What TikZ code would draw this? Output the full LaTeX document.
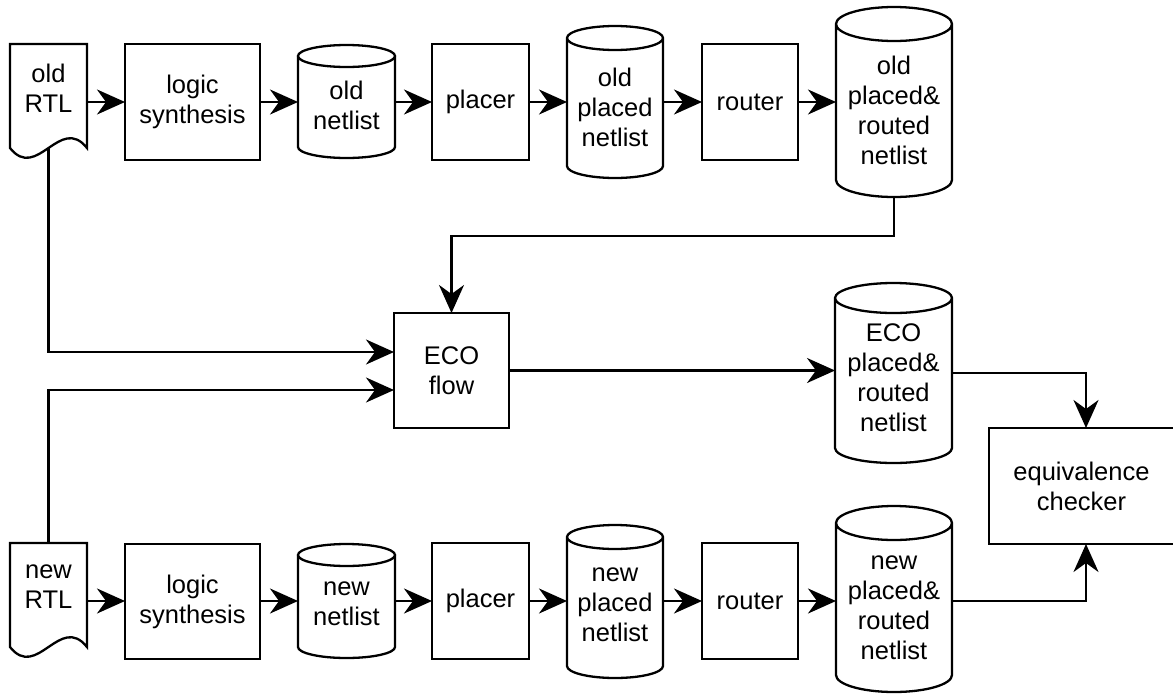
\documentclass[tikz,border=0pt]{standalone}
\usepackage{fontspec}
\setmainfont{Liberation Sans}
\usetikzlibrary{arrows.meta,calc}

% Outline of a vertical cylinder filling the footprint of node #1,
% with end ellipses of vertical radius #2 (in pt).
\newcommand\cylinderoutline[2]{%
  \draw[ln] let \p1=(#1.north west), \p2=(#1.south east), \n1={(\x2-\x1)/2} in
    (\x1,\y1-#2pt) -- (\x1,\y2+#2pt)
    arc[start angle=180, end angle=360, x radius=\n1, y radius=#2pt]
    -- (\x2,\y1-#2pt)
    (\x1+\n1,\y1-#2pt) ellipse[x radius=\n1, y radius=#2pt];}

% Outline of a document symbol (wavy bottom edge) filling node #1.
\newcommand\documentoutline[1]{%
  \draw[ln] (#1.north west) -- (#1.north east) -- (#1.south east)
    .. controls ($(#1.south east)+(-27,34)$) and ($(#1.south east)+(-50,-34)$) .. (#1.south west)
    -- cycle;}

\tikzset{
  bigtip/.tip={Stealth[length=28pt 0 0, width=25pt 0 0, inset=9pt 0 0]}
}

\begin{document}
\begin{tikzpicture}[x=1pt,y=1pt,
  ln/.style={line width=2.3pt},
  every node/.style={inner sep=0pt, outer sep=0pt},
  txt/.style={align=center, font=\fontsize{25.5}{30}\selectfont},
  box/.style={txt, draw, ln},
  flow/.style={ln, -bigtip}]

\path[use as bounding box, clip] (0,0) rectangle (1173,-694);

% rows of the two flows
\coordinate (r1) at (0,-102);
\coordinate (r2) at (0,-601);
\coordinate (bend) at (0,-236);

% ---- old flow ----
\node[minimum width=77pt, minimum height=104pt] (ortl) at (48.5,-96) {};
\documentoutline{ortl}
\node[txt] (ortl-t) at ($(ortl)+(0,8)$) {old\\RTL};

\node[box, minimum width=135pt, minimum height=116pt] (ols) at (192.5,-102) {logic\\synthesis};

\node[minimum width=97pt, minimum height=113pt] (onl) at (346.5,-101.5) {};
\cylinderoutline{onl}{11}
\node[txt] (onl-t) at ($(onl)+(0,-3.5)$) {old\\netlist};

\node[box, minimum width=97pt, minimum height=116pt] (opl) at (480.5,-102) {placer};

\node[minimum width=96pt, minimum height=152pt] (opn) at (615,-102) {};
\cylinderoutline{opn}{12}
\node[txt] (opn-t) at ($(opn)+(0,-5)$) {old\\placed\\netlist};

\node[box, minimum width=96pt, minimum height=116pt] (ort) at (750,-102) {router};

\node[minimum width=116pt, minimum height=190pt] (oprn) at (894,-102) {};
\cylinderoutline{oprn}{17}
\node[txt] (oprn-t) at ($(oprn)+(0,-8)$) {old\\placed\&\\routed\\netlist};

% ---- ECO step ----
\node[box, minimum width=115pt, minimum height=115pt] (eco) at (451.5,-370.5) {ECO\\flow};

\node[minimum width=117pt, minimum height=180pt] (ecoprn) at (893.5,-373) {};
\cylinderoutline{ecoprn}{15}
\node[txt] (ecoprn-t) at ($(ecoprn)+(0,-4.5)$) {ECO\\placed\&\\routed\\netlist};

\node[box, minimum width=185pt, minimum height=116pt] (eqc) at (1081.5,-486) {equivalence\\checker};

% ---- new flow ----
\node[minimum width=77pt, minimum height=104pt] (nrtl) at (48.5,-595) {};
\documentoutline{nrtl}
\node[txt] (nrtl-t) at ($(nrtl)+(0,8)$) {new\\RTL};

\node[box, minimum width=135pt, minimum height=115pt] (nls) at (192.5,-601.5) {logic\\synthesis};

\node[minimum width=97pt, minimum height=114pt] (nnl) at (346.5,-601) {};
\cylinderoutline{nnl}{11}
\node[txt] (nnl-t) at ($(nnl)+(0,-3)$) {new\\netlist};

\node[box, minimum width=97pt, minimum height=116pt] (npl) at (480.5,-601) {placer};

\node[minimum width=96pt, minimum height=153pt] (npn) at (615,-601.5) {};
\cylinderoutline{npn}{12}
\node[txt] (npn-t) at ($(npn)+(0,-3.5)$) {new\\placed\\netlist};

\node[box, minimum width=96pt, minimum height=116pt] (nrt) at (750,-601) {router};

\node[minimum width=116pt, minimum height=186pt] (nprn) at (894,-599) {};
\cylinderoutline{nprn}{17}
\node[txt] (nprn-t) at ($(nprn)+(0,-9)$) {new\\placed\&\\routed\\netlist};

% ---- connectors ----
\draw[flow] (ortl.east |- r1) -- (ols.west |- r1);
\draw[flow] (ols.east |- r1) -- (onl.west |- r1);
\draw[flow] (onl.east |- r1) -- (opl.west |- r1);
\draw[flow] (opl.east |- r1) -- (opn.west |- r1);
\draw[flow] (opn.east |- r1) -- (ort.west |- r1);
\draw[flow] (ort.east |- r1) -- (oprn.west |- r1);

\draw[flow] (nrtl.east |- r2) -- (nls.west |- r2);
\draw[flow] (nls.east |- r2) -- (nnl.west |- r2);
\draw[flow] (nnl.east |- r2) -- (npl.west |- r2);
\draw[flow] (npl.east |- r2) -- (npn.west |- r2);
\draw[flow] (npn.east |- r2) -- (nrt.west |- r2);
\draw[flow] (nrt.east |- r2) -- (nprn.west |- r2);

\draw[flow] (oprn.south) -- (oprn.south |- bend) -| (eco.north);
\draw[flow] (ortl.south) |- ($(eco.west)+(0,18.5)$);
\draw[flow] (nrtl.north) |- ($(eco.west)+(0,-19.5)$);
\draw[flow] (eco.east) -- (eco.east -| ecoprn.west);

\coordinate (eqin1) at ($(eqc.north)+(4.5,0)$);
\coordinate (eqin2) at ($(eqc.south)+(4.5,0)$);
\draw[flow] (ecoprn.east) -| (eqin1);
\draw[flow] (nprn.east |- r2) -| (eqin2);
\end{tikzpicture}
\end{document}
